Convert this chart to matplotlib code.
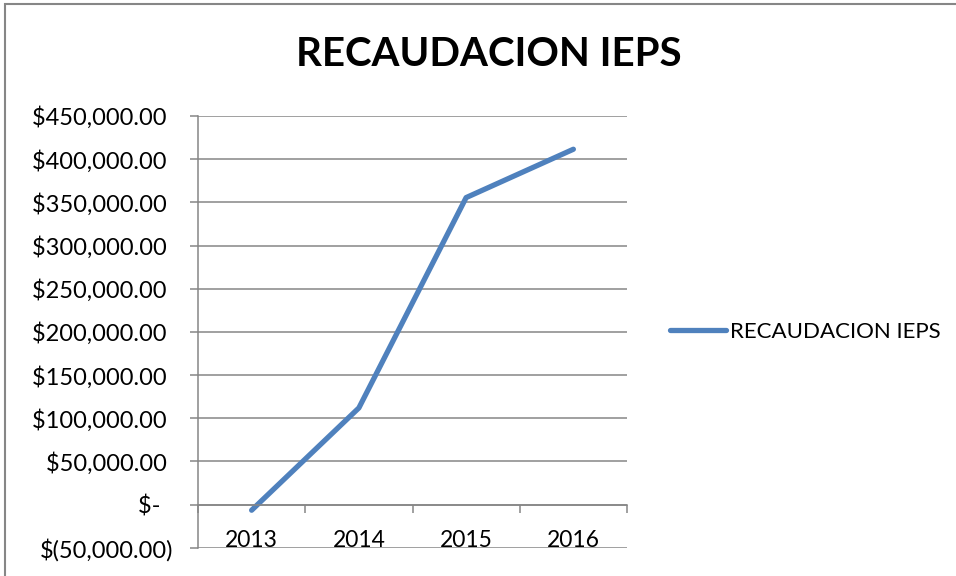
import matplotlib.pyplot as plt
from matplotlib.patches import Rectangle
from matplotlib.ticker import FixedLocator, FuncFormatter

years = ['2013', '2014', '2015', '2016']
recaudacion = [-6600, 111900, 355500, 411500]
yticks = list(range(-50000, 450001, 50000))

blue = '#4F81BD'
gray = '#868686'
plt.rcParams['font.family'] = ['Lato', 'DejaVu Sans']


def money(v, pos):
    if v == 0:
        return '$-  '
    if v < 0:
        return '$({:,.2f})'.format(-v)
    return '${:,.2f} '.format(v)


fig = plt.figure(figsize=(9.56, 5.76), dpi=100)
ax = fig.add_axes([198 / 956, 1 - 547.7 / 576, 429 / 956, (547.7 - 116) / 576])

x = list(range(len(years)))
ax.plot(x, recaudacion, color=blue, lw=3.8, solid_capstyle='round',
        solid_joinstyle='round', label='RECAUDACION IEPS')

ax.set_xlim(-0.5, 3.5)
ax.set_ylim(-50000, 450000)
ax.yaxis.set_major_locator(FixedLocator(yticks))
ax.yaxis.set_major_formatter(FuncFormatter(money))
ax.grid(axis='y', color=gray, lw=1.1)
ax.set_axisbelow(True)

ax.xaxis.set_major_locator(FixedLocator([-0.5, 0.5, 1.5, 2.5, 3.5]))
ax.xaxis.set_major_formatter(FuncFormatter(lambda v, p: ''))
ax.xaxis.set_minor_locator(FixedLocator(x))
ax.xaxis.set_minor_formatter(FuncFormatter(lambda v, p: years[int(round(v))]))
ax.tick_params(axis='x', which='major', direction='out', length=5.5, color=gray, width=1.1)
ax.tick_params(axis='x', which='minor', length=0, pad=18, labelsize=16.5)
ax.tick_params(axis='y', direction='out', length=6, color=gray, width=1.1,
               pad=12, labelsize=17)

for s in ['top', 'right']:
    ax.spines[s].set_visible(False)
ax.spines['bottom'].set_position(('data', 0))
ax.spines['bottom'].set_color(gray)
ax.spines['bottom'].set_linewidth(1.1)
ax.spines['left'].set_color(gray)
ax.spines['left'].set_linewidth(1.1)

fig.text(489 / 956, 1 - 54 / 576, 'RECAUDACION IEPS', ha='center', va='center',
         fontsize=29, fontweight='bold')

leg = fig.legend(loc='center left', bbox_to_anchor=(650 / 956, 1 - 332 / 576),
                 frameon=False, fontsize=16, handlelength=2.5, handletextpad=0.2)

fig.add_artist(Rectangle((5 / 956, -0.1), 2, 1.1 - 4 / 576, transform=fig.transFigure,
                         fill=False, edgecolor=gray, lw=1.5, clip_on=False))

fig.savefig('out.png', dpi=100)
